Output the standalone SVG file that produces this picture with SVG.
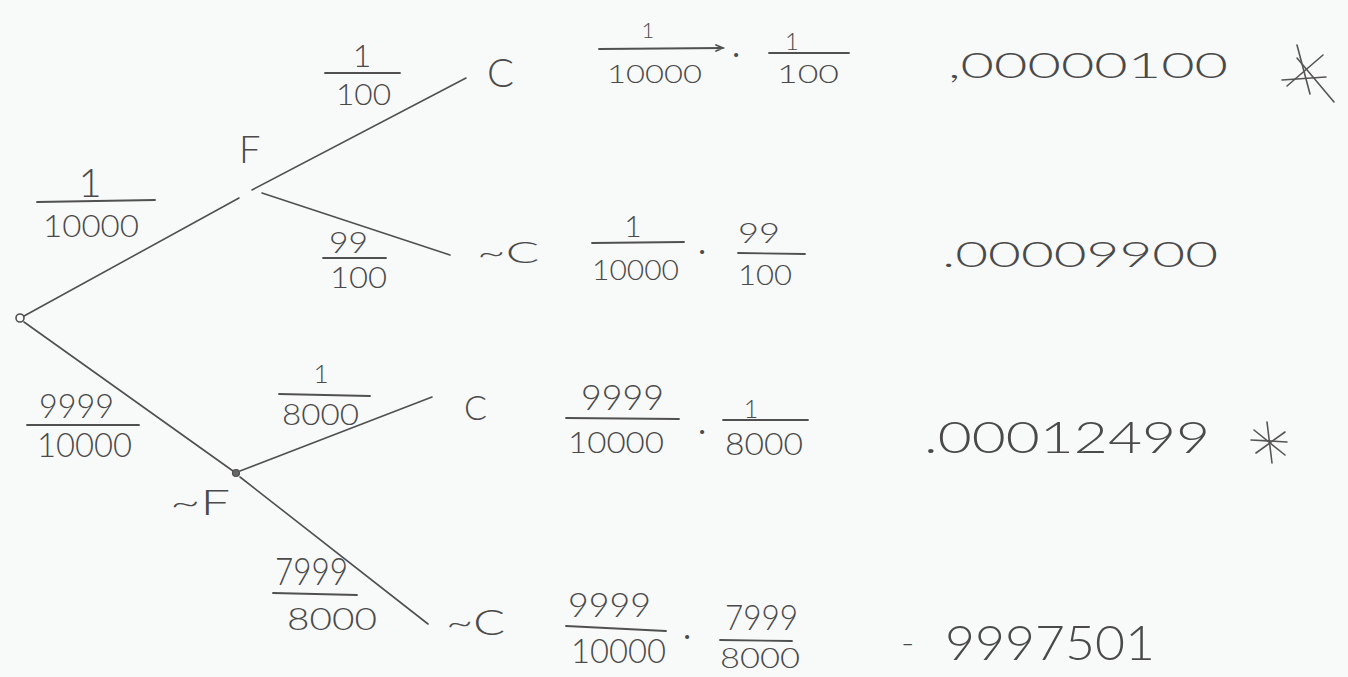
<svg xmlns="http://www.w3.org/2000/svg" width="1348" height="677" viewBox="0 0 1348 677">
<style>
text{font-family:Lato,"Liberation Sans",sans-serif;font-weight:300;fill:#4a4a4a}
.m{text-anchor:middle}
.e{stroke:#505050;stroke-width:1.6;fill:none;stroke-linecap:round}
.bar{stroke:#505050;stroke-width:1.8;fill:none;stroke-linecap:round}
.star{stroke:#555;stroke-width:1.6;stroke-linecap:round}
</style>
<rect width="1348" height="677" fill="#f8f9f9"/>
<g id="connectors">
<line class="e" x1="24" y1="316" x2="239" y2="198"/>
<line class="e" x1="252" y1="190" x2="466" y2="78"/>
<line class="e" x1="262" y1="193" x2="450" y2="255"/>
<line class="e" x1="24" y1="322" x2="233" y2="471"/>
<line class="e" x1="240" y1="471" x2="432" y2="397"/>
<line class="e" x1="240" y1="477" x2="428" y2="624"/>
</g>
<g id="edge-labels">
<g id="lbl-root-F"><text class="m" x="90" y="197" font-size="40">1</text><line class="bar" x1="37" y1="202" x2="155" y2="200"/><text x="43" y="237" font-size="32" textLength="96" lengthAdjust="spacingAndGlyphs">10000</text></g>
<g id="lbl-F-C"><text class="m" x="362" y="67" font-size="32">1</text><line class="bar" x1="325" y1="73" x2="400" y2="73"/><text x="336" y="105" font-size="30" textLength="55" lengthAdjust="spacingAndGlyphs">100</text></g>
<g id="lbl-F-NC"><text x="329" y="253" font-size="30" textLength="39" lengthAdjust="spacingAndGlyphs">99</text><line class="bar" x1="323" y1="258" x2="386" y2="258"/><text x="330" y="288" font-size="29" textLength="57" lengthAdjust="spacingAndGlyphs">100</text></g>
<g id="lbl-root-NF"><text x="39" y="418" font-size="34" textLength="75" lengthAdjust="spacingAndGlyphs">9999</text><line class="bar" x1="27" y1="425" x2="139" y2="425"/><text x="37" y="457" font-size="33" textLength="95" lengthAdjust="spacingAndGlyphs">10000</text></g>
<g id="lbl-NF-C"><text class="m" x="321" y="383" font-size="26">1</text><line class="bar" x1="279" y1="394" x2="370" y2="396"/><text x="282" y="425" font-size="29" textLength="77" lengthAdjust="spacingAndGlyphs">8000</text></g>
<g id="lbl-NF-NC"><text x="275" y="585" font-size="38" textLength="73" lengthAdjust="spacingAndGlyphs">7999</text><line class="bar" x1="273" y1="593" x2="357" y2="595"/><text x="287" y="630" font-size="31" textLength="90" lengthAdjust="spacingAndGlyphs">8000</text></g>
</g>
<g id="node-root"><circle cx="20" cy="318" r="4" fill="none" stroke="#505050" stroke-width="1.6"/></g>
<g id="node-F"><text x="239" y="163" font-size="38">F</text></g>
<g id="node-NF"><circle cx="236" cy="473" r="3.5" fill="#666" stroke="#505050" stroke-width="1.2"/><text x="170" y="515" font-size="36" textLength="60" lengthAdjust="spacingAndGlyphs">~F</text></g>
<g id="node-C1"><text x="487" y="87" font-size="40">C</text></g>
<g id="node-NC1"><text x="477" y="263" font-size="30" textLength="62" lengthAdjust="spacingAndGlyphs">~C</text></g>
<g id="node-C2"><text x="464" y="420" font-size="34">C</text></g>
<g id="node-NC2"><text x="446" y="635" font-size="36" textLength="59" lengthAdjust="spacingAndGlyphs">~C</text></g>
<g id="row1">
<text class="m" x="648" y="38" font-size="22">1</text>
<path class="bar" d="M599,49 L723,48 M716,45 L723,48 L716,51"/>
<text x="607" y="83" font-size="26" textLength="95" lengthAdjust="spacingAndGlyphs">10000</text>
<text class="m" x="736" y="67" font-size="40">·</text>
<text class="m" x="792" y="50" font-size="24">1</text>
<line class="bar" x1="769" y1="53" x2="849" y2="53"/>
<text x="777" y="83" font-size="26" textLength="62" lengthAdjust="spacingAndGlyphs">100</text>
<text x="948" y="78" font-size="35" textLength="280" lengthAdjust="spacingAndGlyphs">,00000100</text>
<g class="star"><line x1="1297" y1="45" x2="1310" y2="94"/><line x1="1282" y1="80" x2="1326" y2="77"/><line x1="1287" y1="86" x2="1323" y2="55"/><line x1="1297" y1="58" x2="1334" y2="102"/></g>
</g>
<g id="row2">
<text class="m" x="633" y="237" font-size="30">1</text>
<line class="bar" x1="592" y1="243" x2="684" y2="242"/>
<text x="592" y="280" font-size="27" textLength="87" lengthAdjust="spacingAndGlyphs">10000</text>
<text class="m" x="702" y="264" font-size="40">·</text>
<text x="738" y="243" font-size="27" textLength="42" lengthAdjust="spacingAndGlyphs">99</text>
<line class="bar" x1="738" y1="253" x2="805" y2="254"/>
<text x="738" y="285" font-size="27" textLength="54" lengthAdjust="spacingAndGlyphs">100</text>
<text x="942" y="267" font-size="35" textLength="276" lengthAdjust="spacingAndGlyphs">.00009900</text>
</g>
<g id="row3">
<text x="581" y="410" font-size="36" textLength="83" lengthAdjust="spacingAndGlyphs">9999</text>
<line class="bar" x1="566" y1="418" x2="679" y2="419"/>
<text x="568" y="453" font-size="29" textLength="96" lengthAdjust="spacingAndGlyphs">10000</text>
<text class="m" x="702" y="444" font-size="40">·</text>
<text class="m" x="751" y="418" font-size="25">1</text>
<line class="bar" x1="723" y1="420" x2="808" y2="420"/>
<text x="725" y="455" font-size="31" textLength="78" lengthAdjust="spacingAndGlyphs">8000</text>
<text x="924" y="453" font-size="44" textLength="286" lengthAdjust="spacingAndGlyphs">.00012499</text>
<g class="star"><line x1="1267" y1="422" x2="1272" y2="463"/><line x1="1251" y1="440" x2="1287" y2="442"/><line x1="1254" y1="430" x2="1285" y2="455"/><line x1="1256" y1="453" x2="1285" y2="432"/></g>
</g>
<g id="row4">
<text x="568" y="617" font-size="34" textLength="83" lengthAdjust="spacingAndGlyphs">9999</text>
<line class="bar" x1="566" y1="626" x2="666" y2="631"/>
<text x="571" y="663" font-size="33" textLength="95" lengthAdjust="spacingAndGlyphs">10000</text>
<text class="m" x="687" y="649" font-size="40">·</text>
<text x="725" y="630" font-size="35" textLength="73" lengthAdjust="spacingAndGlyphs">7999</text>
<line class="bar" x1="720" y1="640" x2="792" y2="641"/>
<text x="720" y="668" font-size="28" textLength="80" lengthAdjust="spacingAndGlyphs">8000</text>
<text x="901" y="655" font-size="36" font-weight="400">-</text>
<text x="945" y="660" font-size="48" textLength="210" lengthAdjust="spacingAndGlyphs">9997501</text>
</g>
</svg>
